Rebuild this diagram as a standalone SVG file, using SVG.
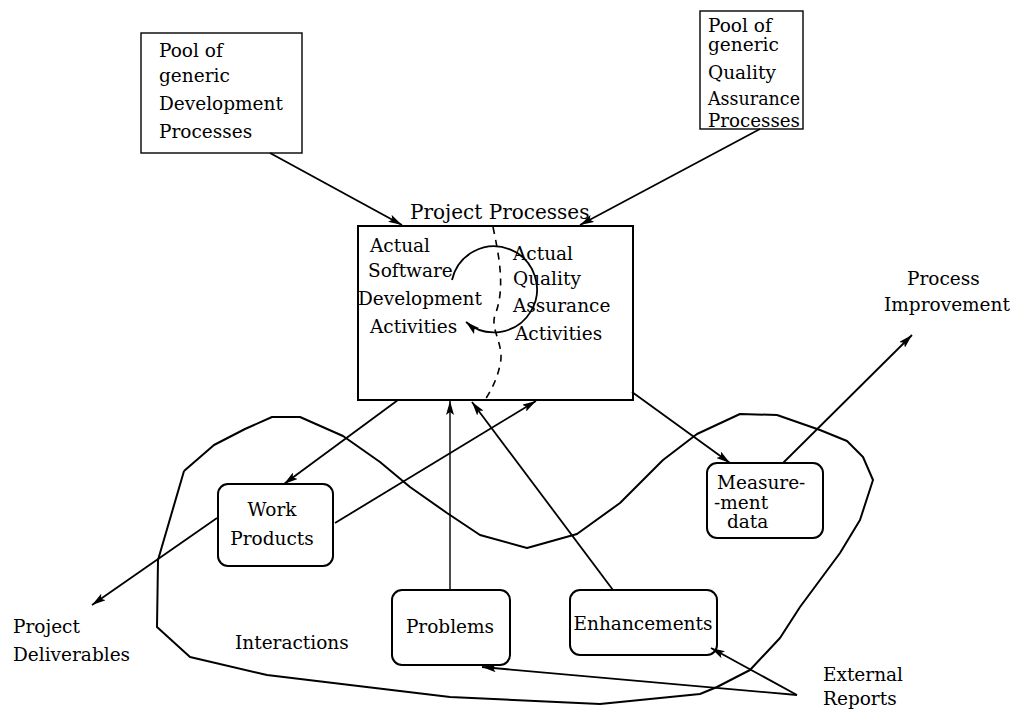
<svg xmlns="http://www.w3.org/2000/svg" width="1017" height="714" viewBox="0 0 1017 714">
<defs>
<style>
text{font-family:"DejaVu Serif","Liberation Serif",serif;font-size:18.5px;fill:#000}
.pool{fill:#fff;stroke:#000;stroke-width:1.4}
.proj{fill:#fff;stroke:#000;stroke-width:2}
.node{fill:#fff;stroke:#000;stroke-width:2}
.c{fill:none;stroke:#000;stroke-width:1.8}
.thin{fill:none;stroke:#000;stroke-width:1.4}
.dash{fill:none;stroke:#000;stroke-width:1.6;stroke-dasharray:7 6}
.loop{fill:none;stroke:#000;stroke-width:2;stroke-linejoin:round}
</style>
<marker id="ah" viewBox="0 0 14 8" refX="14" refY="4" markerWidth="14" markerHeight="8" markerUnits="userSpaceOnUse" orient="auto">
<path d="M0,0 L14,4 L0,8 L3,4 Z" fill="#000"/>
</marker>
</defs>
<rect width="1017" height="714" fill="#fff"/>

<g id="interactions">
<polyline class="loop" points="184,471 214,445 245,429 272,417 300,417 343,436 380,462 410,487 447,513 480,535 527,548 577,534 620,503 663,460 697,434 740,414 777,415 820,430 847,441 863,457 873,480 860,520 840,553 800,607 780,638 750,670 717,687 700,694 600,704 450,697 350,685 267,675 190,657 157,627 158,560 184,471"/>
<text x="235" y="649">Interactions</text>
</g>

<g id="pool-dev">
<rect class="pool" x="141" y="33" width="161" height="120"/>
<text x="159" y="57">Pool of</text>
<text x="159" y="82">generic</text>
<text x="159" y="110">Development</text>
<text x="159" y="138">Processes</text>
</g>

<g id="pool-qa">
<rect class="pool" x="700" y="11" width="103" height="118"/>
<text x="708" y="32">Pool of</text>
<text x="708" y="51">generic</text>
<text x="708" y="79">Quality</text>
<text x="708" y="105" textLength="92" lengthAdjust="spacingAndGlyphs">Assurance</text>
<text x="708" y="127" textLength="92" lengthAdjust="spacingAndGlyphs">Processes</text>
</g>

<g id="project-processes">
<text x="410" y="219" style="font-size:20px">Project Processes</text>
<rect class="proj" x="358" y="226" width="275" height="174"/>
<path class="dash" d="M493,227 C500,260 505,290 495,315 C490,330 505,345 500,365 C497,380 490,392 485,400"/>
<text x="370" y="252">Actual</text>
<text x="368" y="277">Software</text>
<text x="358" y="305">Development</text>
<text x="370" y="333">Activities</text>
<text x="513" y="260">Actual</text>
<text x="513" y="285">Quality</text>
<text x="513" y="312">Assurance</text>
<text x="515" y="340">Activities</text>
<path class="c" d="M452,280 A43,43 0 1 1 466,322" marker-end="url(#ah)"/>
</g>

<g id="work-products">
<rect class="node" x="218" y="484" width="115" height="82" rx="10"/>
<text x="272" y="516" text-anchor="middle">Work</text>
<text x="272" y="545" text-anchor="middle">Products</text>
</g>

<g id="measurement-data">
<rect class="node" x="707" y="463" width="116" height="75" rx="10"/>
<text x="717" y="489">Measure-</text>
<text x="714" y="509">-ment</text>
<text x="727" y="528">data</text>
</g>

<g id="problems">
<rect class="node" x="392" y="590" width="118" height="75" rx="10"/>
<text x="450" y="633" text-anchor="middle">Problems</text>
</g>

<g id="enhancements">
<rect class="node" x="570" y="590" width="147" height="65" rx="10"/>
<text x="643" y="630" text-anchor="middle">Enhancements</text>
</g>

<g id="labels">
<text x="907" y="285">Process</text>
<text x="884" y="311">Improvement</text>
<text x="13" y="633">Project</text>
<text x="13" y="661">Deliverables</text>
<text x="823" y="681">External</text>
<text x="823" y="705">Reports</text>
</g>

<g id="connectors">
<line class="c" x1="270" y1="153" x2="402" y2="225" marker-end="url(#ah)"/>
<line class="c" x1="760" y1="129" x2="580" y2="225" marker-end="url(#ah)"/>
<line class="c" x1="398" y1="400" x2="284" y2="484" marker-end="url(#ah)"/>
<line class="c" x1="335" y1="523" x2="536" y2="401" marker-end="url(#ah)"/>
<line class="c" x1="217" y1="518" x2="92" y2="605" marker-end="url(#ah)"/>
<line class="thin" x1="450" y1="590" x2="450" y2="401" marker-end="url(#ah)"/>
<line class="c" x1="613" y1="590" x2="472" y2="402" marker-end="url(#ah)"/>
<line class="c" x1="632" y1="392" x2="730" y2="463" marker-end="url(#ah)"/>
<line class="c" x1="783" y1="463" x2="912" y2="335" marker-end="url(#ah)"/>
<line class="c" x1="797" y1="695" x2="711" y2="648" marker-end="url(#ah)"/>
<line class="c" x1="797" y1="695" x2="482" y2="667" marker-end="url(#ah)"/>
</g>
</svg>
